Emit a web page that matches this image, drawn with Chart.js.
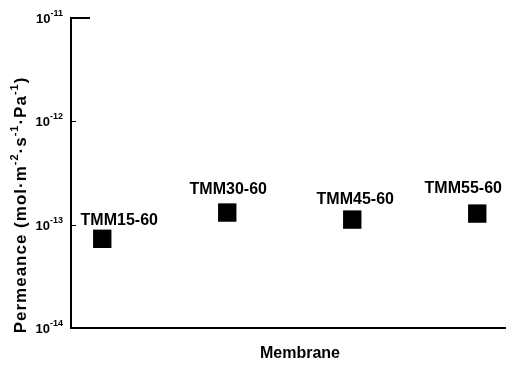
<!DOCTYPE html>
<html>
<head>
<meta charset="utf-8">
<script src="https://cdn.jsdelivr.net/npm/chart.js@4.4.1/dist/chart.umd.min.js"></script>
<style>
  html, body { margin: 0; padding: 0; background: #fff; overflow: hidden; }
  #wrap { width: 506px; height: 371px; position: relative; }
</style>
</head>
<body>
<div id="wrap"><canvas id="chart"></canvas></div>
<script>
const membranes = ["TMM15-60", "TMM30-60", "TMM45-60", "TMM55-60"];
const permeance = [7.3e-14, 1.31e-13, 1.12e-13, 1.28e-13];
const decades = [-11, -12, -13, -14];

const FONT = '"Liberation Sans", Arial, sans-serif';

// draws "10" with a raised exponent, right aligned at x
function drawPow(ctx, exp, xRight, yMid) {
  ctx.textBaseline = "alphabetic";
  ctx.textAlign = "left";
  ctx.font = "bold 13px " + FONT;
  const base = "10";
  const wBase = ctx.measureText(base).width;
  ctx.font = "bold 9px " + FONT;
  const sup = "-" + Math.abs(exp);
  const wSup = ctx.measureText(sup).width;
  const x0 = xRight - wBase - wSup;
  ctx.font = "bold 13px " + FONT;
  ctx.fillText(base, x0, yMid + 5);
  ctx.font = "bold 9px " + FONT;
  ctx.fillText(sup, x0 + wBase, yMid - 2);
}

const axesPlugin = {
  id: "axesPlugin",
  afterDatasetsDraw(chart) {
    const ctx = chart.ctx;
    const area = chart.chartArea;
    const ys = chart.scales.y;
    ctx.save();
    ctx.strokeStyle = "#000";
    ctx.fillStyle = "#000";

    // axis lines
    ctx.lineWidth = 2;
    ctx.beginPath();
    ctx.moveTo(area.left + 19, area.top);
    ctx.lineTo(area.left, area.top);
    ctx.lineTo(area.left, area.bottom);
    ctx.lineTo(area.right, area.bottom);
    ctx.stroke();

    // ticks (inward)
    ctx.lineWidth = 1;
    ctx.beginPath();
    decades.forEach(e => {
      const y = Math.round(ys.getPixelForValue(Math.pow(10, e))) + 0.5;
      ctx.moveTo(area.left, y);
      ctx.lineTo(area.left + 5, y);
      if (e > -11) {
        for (let m = 2; m <= 9; m++) {
          const ym = Math.round(ys.getPixelForValue(m * Math.pow(10, e))) + 0.5;
          ctx.moveTo(area.left, ym);
          ctx.lineTo(area.left + 4, ym);
        }
      }
    });
    ctx.stroke();

    // tick labels
    decades.forEach(e => {
      drawPow(ctx, e, area.left - 8, ys.getPixelForValue(Math.pow(10, e)));
    });

    // point labels
    const offsets = [[17, -18], [1, -23], [3, -20], [-14, -25]];
    const meta = chart.getDatasetMeta(0);
    ctx.font = "bold 16px " + FONT;
    ctx.textAlign = "center";
    ctx.textBaseline = "middle";
    meta.data.forEach((pt, i) => {
      ctx.fillText(membranes[i], pt.x + offsets[i][0], pt.y + offsets[i][1]);
    });

    // x title
    ctx.font = "bold 16px " + FONT;
    ctx.fillText("Membrane", 300, 354);

    // y title with superscripts
    const parts = [
      ["Permeance (mol\u00b7m", false], ["-2", true], ["\u00b7s", false], ["-1", true],
      ["\u00b7Pa", false], ["-1", true], [")", false]
    ];
    const mainFont = "bold 17px " + FONT;
    const supFont = "bold 11px " + FONT;
    ctx.letterSpacing = "1px";
    let total = 0;
    parts.forEach(p => {
      ctx.font = p[1] ? supFont : mainFont;
      total += ctx.measureText(p[0]).width;
    });
    ctx.translate(25.5, 205);
    ctx.rotate(-Math.PI / 2);
    ctx.textAlign = "left";
    ctx.textBaseline = "alphabetic";
    let u = -total / 2;
    parts.forEach(p => {
      ctx.font = p[1] ? supFont : mainFont;
      ctx.fillText(p[0], u, p[1] ? -7.5 : 0);
      u += ctx.measureText(p[0]).width;
    });
    ctx.restore();
  }
};

new Chart(document.getElementById("chart"), {
  type: "scatter",
  data: {
    datasets: [{
      data: membranes.map((m, i) => ({ x: i + 1, y: permeance[i] })),
      pointStyle: "rect",
      pointRadius: 13,
      pointHoverRadius: 13,
      backgroundColor: "#000",
      borderColor: "#000",
      borderWidth: 0
    }]
  },
  options: {
    responsive: true,
    maintainAspectRatio: false,
    animation: false,
    layout: { autoPadding: false, padding: { left: 71, top: 18, right: 0, bottom: 43 } },
    plugins: { legend: { display: false }, tooltip: { enabled: false } },
    scales: {
      x: { type: "linear", min: 0.75, max: 4.23, display: false },
      y: { type: "logarithmic", min: 1e-14, max: 1e-11, display: false }
    }
  },
  plugins: [axesPlugin]
});
</script>
</body>
</html>
